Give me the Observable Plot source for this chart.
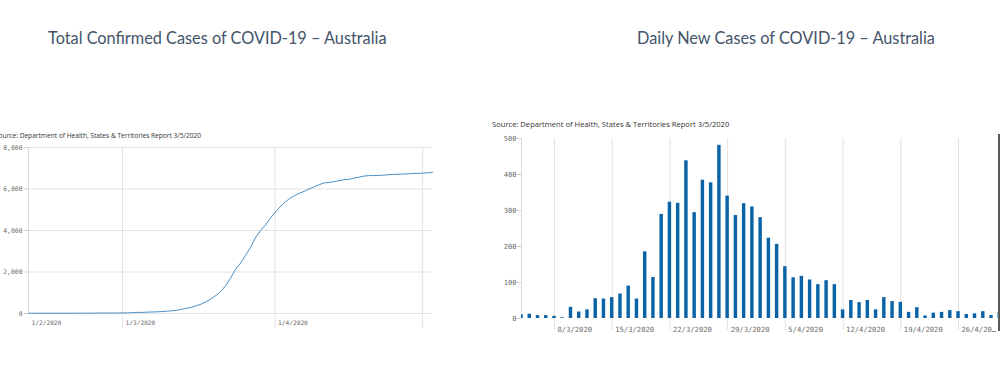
<!DOCTYPE html>
<html><head><meta charset="utf-8">
<script src="https://cdn.jsdelivr.net/npm/d3@7"></script>
<script src="https://cdn.jsdelivr.net/npm/@observablehq/plot@0.6"></script>
<style>
html,body{margin:0;padding:0;background:#fff;}
body{width:1000px;height:368px;overflow:hidden;position:relative;}
.title{position:absolute;font-family:Lato,"Open Sans",sans-serif;font-size:16.3px;line-height:20px;color:#44546a;white-space:nowrap;}
.src{position:absolute;font-family:"Open Sans",sans-serif;font-size:7.6px;line-height:10px;color:#333;white-space:nowrap;}
.chart{position:absolute;}
.chart svg{max-width:none !important;}
.edge{position:absolute;left:998px;top:134px;width:2px;height:197px;background:#5a5a5a;}
</style></head><body>
<div class="title" style="left:48px;top:28px">Total Confirmed Cases of COVID-19 – Australia</div>
<div class="title" style="left:637px;top:28px">Daily New Cases of COVID-19 – Australia</div>
<div class="src" style="left:-5px;top:131px;font-size:6.6px">Source: Department of Health, States &amp; Territories Report 3/5/2020</div>
<div class="src" style="left:492px;top:119px">Source: Department of Health, States &amp; Territories Report 3/5/2020</div>
<div class="chart" id="left" style="left:0px;top:140px;width:440px"></div>
<div class="chart" id="right" style="left:480px;top:128px;width:544px"></div>
<div class="edge"></div>
<script>
// ---------- Total confirmed cases (cumulative) ----------
const totalDates = [
 "2020-02-01","2020-02-02","2020-02-04","2020-02-06","2020-02-10","2020-02-15","2020-02-21","2020-02-22","2020-02-26","2020-02-29",
 "2020-03-01","2020-03-02","2020-03-03","2020-03-04","2020-03-05","2020-03-06","2020-03-07","2020-03-08","2020-03-09","2020-03-10",
 "2020-03-11","2020-03-12","2020-03-13","2020-03-14","2020-03-15","2020-03-16","2020-03-17","2020-03-18","2020-03-19","2020-03-20",
 "2020-03-21","2020-03-22","2020-03-23","2020-03-24","2020-03-25","2020-03-26","2020-03-27","2020-03-28","2020-03-29","2020-03-30",
 "2020-03-31","2020-04-01","2020-04-02","2020-04-03","2020-04-04","2020-04-05","2020-04-06","2020-04-07","2020-04-08","2020-04-09",
 "2020-04-10","2020-04-11","2020-04-12","2020-04-13","2020-04-14","2020-04-15","2020-04-16","2020-04-17","2020-04-18","2020-04-19",
 "2020-04-20","2020-04-21","2020-04-22","2020-04-23","2020-04-24","2020-04-25","2020-04-26","2020-04-27","2020-04-28","2020-04-29",
 "2020-04-30","2020-05-01","2020-05-02","2020-05-03"];
const totalCases = [
 12,12,13,15,15,15,17,22,23,25,
 27,33,39,52,55,63,74,80,92,112,
 127,156,199,250,298,376,453,566,708,875,
 1071,1352,1717,2146,2431,2805,3179,3640,3985,4250,
 4580,4864,5136,5358,5550,5687,5800,5895,6010,6109,
 6208,6298,6315,6359,6400,6447,6462,6522,6565,6619,
 6645,6649,6654,6667,6687,6703,6711,6720,6731,6746,
 6753,6767,6783,6801];
const totalTickDates = ["2020-02-01","2020-03-01","2020-04-01","2020-05-01"];
const totalTickLabels = ["1/2/2020","1/3/2020","1/4/2020",""];
const totalYTicks = [0,2000,4000,6000,8000];

// ---------- Daily new cases ----------
const dailyStart = "2020-03-04";
const dailyCases = [
 10,12,8,8,6,2,31,18,24,55,54,58,68,90,54,185,114,
 289,323,320,438,294,384,377,481,340,286,319,310,280,223,206,
 144,113,117,107,94,105,94,
 24,50,44,50,24,58,47,45,17,30,7,15,17,22,19,11,13,19,8,17];
const dailyTickDates = ["2020-03-08","2020-03-15","2020-03-22","2020-03-29","2020-04-05","2020-04-12","2020-04-19","2020-04-26"];
const dailyTickLabels = ["8/3/2020","15/3/2020","22/3/2020","29/3/2020","5/4/2020","12/4/2020","19/4/2020","26/4/20…"];
const dailyYTicks = [0,100,200,300,400,500];

const parse = d3.utcParse("%Y-%m-%d");
const gridColor = "#e2e2e2";
const labelColor = "#6a6a6a";
const mono = "DejaVu Sans Mono";

// Left chart
const totalData = totalDates.map((d,i)=>({date: parse(d), value: totalCases[i]}));
const tTicks = totalTickDates.map(parse);
const tLabel = new Map(tTicks.map((d,i)=>[+d, totalTickLabels[i]]));
const left = Plot.plot({
  width: 440, height: 193,
  marginLeft: 28, marginRight: 8, marginTop: 7, marginBottom: 20,
  x: {type: "utc", label: null, domain: [parse("2020-02-01"), parse("2020-03-01"), parse("2020-05-03")], range: [28, 122, 432]},
  y: {label: null, domain: [0, 8000]},
  marks: [
    Plot.gridY(totalYTicks, {stroke: gridColor, strokeOpacity: 1}),
    Plot.gridX(tTicks.slice(1), {stroke: gridColor, strokeOpacity: 1}),
    Plot.axisX(tTicks.slice(1), {label: null, tickSize: 15, stroke: gridColor, tickFormat: () => ""}),
    Plot.ruleX([tTicks[0]], {stroke: "#d8d8d8"}),
    Plot.axisX(tTicks, {label: null, tickSize: 0, tickPadding: 7, textAnchor: "start", dx: 3, tickFormat: d => tLabel.get(+d), fill: labelColor, fontFamily: mono, fontSize: 6.2}),
    Plot.axisY(totalYTicks, {label: null, tickSize: 4, tickPadding: 2, stroke: "#cfcfcf", tickFormat: d3.format(","), fill: labelColor, fontFamily: mono, fontSize: 6.4}),
    Plot.line(totalData, {x: "date", y: "value", stroke: "#4b8fc5", strokeWidth: 1})
  ]
});
document.getElementById("left").append(left);

// Right chart
const d0 = parse(dailyStart);
const dailyData = dailyCases.map((v,i)=>({date: d3.utcDay.offset(d0, i), value: v}));
const dTicks = dailyTickDates.map(parse);
const dLabel = new Map(dTicks.map((d,i)=>[+d, dailyTickLabels[i]]));
const right = Plot.plot({
  width: 544, height: 206,
  marginLeft: 41, marginRight: 0, marginTop: 10, marginBottom: 16,
  x: {type: "utc", label: null, domain: [d0, parse("2020-05-04")]},
  y: {label: null, domain: [0, 500]},
  marks: [
    Plot.gridX(dTicks, {stroke: gridColor, strokeOpacity: 1}),
    Plot.axisX(dTicks, {label: null, tickSize: 12, stroke: gridColor, tickFormat: () => ""}),
    Plot.ruleX([d0], {stroke: "#d8d8d8"}),
    Plot.axisX(dTicks, {label: null, tickSize: 0, tickPadding: 8, textAnchor: "start", dx: 3, tickFormat: d => dLabel.get(+d), fill: labelColor, fontFamily: mono, fontSize: 7.2}),
    Plot.axisY(dailyYTicks, {label: null, tickSize: 4, tickPadding: 1, stroke: "#cfcfcf", fill: labelColor, fontFamily: mono, fontSize: 7}),
    Plot.rectY(dailyData, {x1: d => d3.utcHour.offset(d.date, -5), x2: d => d3.utcHour.offset(d.date, 5), y: "value", fill: "#0a63a6", clip: true})
  ]
});
document.getElementById("right").append(right);
</script>
</body></html>
